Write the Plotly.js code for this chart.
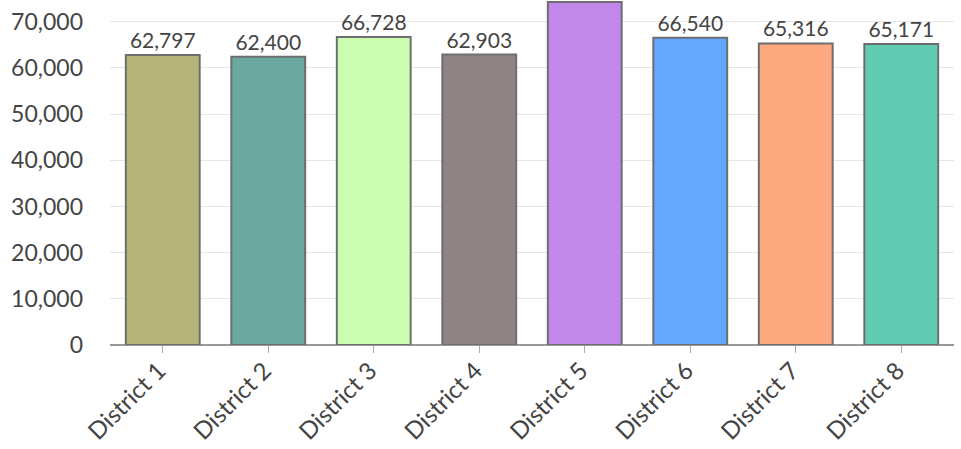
<!DOCTYPE html>
<html><head><meta charset="utf-8">
<script src="https://cdn.plot.ly/plotly-3.0.1.min.js"></script>
<style>html,body{margin:0;padding:0;background:#fff}</style>
</head><body>
<div id="chart" style="width:961px;height:449px"></div>
<script>
const districts = ["District 1","District 2","District 3","District 4","District 5","District 6","District 7","District 8"];
const values = [62797, 62400, 66728, 62903, 74300, 66540, 65316, 65171];
// District 5's label lies above the visible range in the reference and is not shown
const labels = ["62,797","62,400","66,728","62,903","","66,540","65,316","65,171"];
const colors = ["#b5b57a","#6aa8a0","#ccfcb0","#8f8484","#c287ea","#62a8fe","#fda97f","#62ccb2"];
const yTicks = [0,10000,20000,30000,40000,50000,60000,70000];
const yTickText = ["0","10,000","20,000","30,000","40,000","50,000","60,000","70,000"];

const font = "Lato, 'Open Sans', sans-serif";
Plotly.newPlot("chart", [{
  type: "bar",
  x: districts,
  y: values,
  text: labels,
  textposition: "outside",
  cliponaxis: true,
  textfont: {family: font, size: 21, color: "#444"},
  marker: {color: colors, line: {color: "#6e6e6e", width: 2}},
  hoverinfo: "none"
}], {
  width: 961, height: 449,
  margin: {l: 110, r: 7, t: 1, b: 104},
  bargap: 0.3,
  showlegend: false,
  paper_bgcolor: "#fff", plot_bgcolor: "#fff",
  font: {family: font, color: "#444"},
  xaxis: {
    tickangle: -45, tickfont: {family: font, size: 24, color: "#444"},
    ticks: "outside", ticklen: 7, tickcolor: "#aaa",
    ticklabelstandoff: -6, ticklabelshift: -4,
    showline: false, showgrid: false
  },
  yaxis: {
    range: [0, 74500],
    tickvals: yTicks, ticktext: yTickText,
    tickfont: {family: font, size: 23, color: "#444"},
    gridcolor: "#e6e6e6", gridwidth: 1,
    zeroline: true, zerolinecolor: "#999", zerolinewidth: 2,
    ticklabelstandoff: 26
  }
}, {displayModeBar: false, staticPlot: true});
</script>
</body></html>
